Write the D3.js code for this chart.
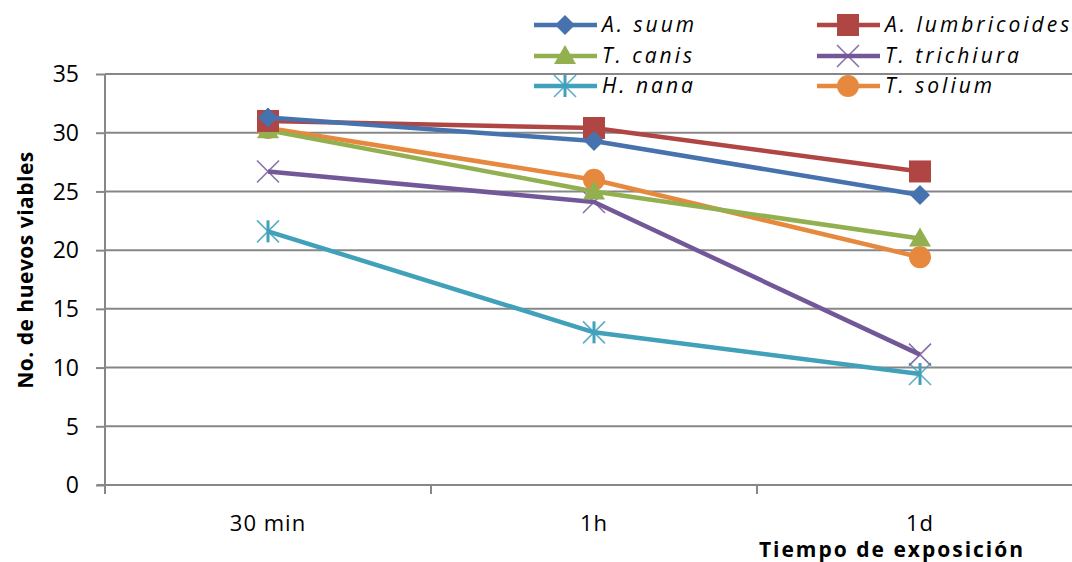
<!DOCTYPE html>
<html>
<head>
<meta charset="utf-8">
<script src="https://cdn.jsdelivr.net/npm/d3@7"></script>
<style>
  html, body { margin: 0; padding: 0; background: #fff; }
  svg { display: block; }
  text { font-family: "Open Sans", "DejaVu Sans", sans-serif; fill: #000; }
</style>
</head>
<body>
<svg id="chart" width="1072" height="562"></svg>
<script>
// Exposure times (categories)
const categories = ["30 min", "1h", "1d"];

// Viable egg counts per species
const aSuum          = [31.3, 29.3, 24.7];
const aLumbricoides  = [31.0, 30.4, 26.7];
const tCanis         = [30.2, 25.0, 21.0];
const tTrichiura     = [26.7, 24.1, 11.1];
const hNana          = [21.6, 13.0, 9.45];
const tSolium        = [30.4, 26.0, 19.4];

const yTicks = [0, 5, 10, 15, 20, 25, 30, 35];

const series = [
  { name: "A. suum",         values: aSuum,         color: "#4672ad", marker: "diamond" },
  { name: "A. lumbricoides", values: aLumbricoides, color: "#b04644", marker: "square" },
  { name: "T. canis",        values: tCanis,        color: "#92b050", marker: "triangle" },
  { name: "T. trichiura",    values: tTrichiura,    color: "#735899", marker: "cross" },
  { name: "H. nana",         values: hNana,         color: "#41a0ba", marker: "star" },
  { name: "T. solium",       values: tSolium,       color: "#e6893e", marker: "circle" }
];

const svg = d3.select("#chart");
const plot = { left: 105, right: 1083, top: 74, bottom: 485 };

const x = d3.scaleBand().domain(categories).range([plot.left, plot.right]);
const y = d3.scaleLinear().domain([0, 35]).range([plot.bottom, plot.top]);
const cx = d => x(d) + x.bandwidth() / 2;

// Horizontal gridlines
svg.append("g")
  .selectAll("line")
  .data(yTicks.filter(t => t > 0))
  .join("line")
  .attr("x1", plot.left).attr("x2", 1072)
  .attr("y1", d => y(d)).attr("y2", d => y(d))
  .attr("stroke", "#878787").attr("stroke-width", 2);

// Y axis
const yAxis = svg.append("g")
  .attr("transform", `translate(${plot.left},0)`)
  .call(d3.axisLeft(y).tickValues(yTicks).tickSize(9).tickPadding(17));
yAxis.select(".domain").attr("stroke", "#878787").attr("stroke-width", 2)
  .attr("d", `M0,${plot.top}V${plot.bottom + 8}`);
yAxis.selectAll(".tick line").attr("stroke", "#878787").attr("stroke-width", 2);
yAxis.selectAll(".tick text")
  .style("font-family", "'Open Sans', sans-serif")
  .style("font-size", "23px").attr("fill", "#000").attr("dy", "0.34em");

// X axis: ticks at category boundaries, labels centred in bands
const bounds = categories.map(c => x(c)).concat([plot.right]);
svg.append("line")
  .attr("x1", plot.left - 8).attr("x2", 1072)
  .attr("y1", plot.bottom).attr("y2", plot.bottom)
  .attr("stroke", "#878787").attr("stroke-width", 2);
svg.append("g").selectAll("line")
  .data(bounds)
  .join("line")
  .attr("x1", d => d).attr("x2", d => d)
  .attr("y1", plot.bottom).attr("y2", plot.bottom + 9)
  .attr("stroke", "#878787").attr("stroke-width", 2);
svg.append("g").selectAll("text")
  .data(categories)
  .join("text")
  .attr("x", d => cx(d)).attr("y", 531)
  .attr("text-anchor", "middle")
  .style("font-size", "22px").style("letter-spacing", "1px")
  .text(d => d);

// Axis titles
svg.append("text")
  .attr("x", 892).attr("y", 557)
  .attr("text-anchor", "middle")
  .style("font-size", "21px").style("font-weight", "bold")
  .style("letter-spacing", "2px")
  .text("Tiempo de exposición");

svg.append("text")
  .attr("transform", "translate(33,270) rotate(-90)")
  .attr("text-anchor", "middle")
  .style("font-size", "21px").style("font-weight", "bold")
  .style("letter-spacing", "0.5px")
  .text("No. de huevos viables");

// Marker drawing
function drawMarker(g, type, color, px, py) {
  switch (type) {
    case "diamond":
      g.append("path").attr("d", `M${px},${py - 10}L${px + 10},${py}L${px},${py + 10}L${px - 10},${py}Z`)
        .attr("fill", color);
      break;
    case "square":
      g.append("rect").attr("x", px - 11).attr("y", py - 11)
        .attr("width", 22).attr("height", 22).attr("fill", color);
      break;
    case "triangle":
      g.append("path").attr("d", `M${px},${py - 11}L${px + 11},${py + 8}L${px - 11},${py + 8}Z`)
        .attr("fill", color);
      break;
    case "circle":
      g.append("circle").attr("cx", px).attr("cy", py).attr("r", 11).attr("fill", color);
      break;
    case "cross":
      g.append("path").attr("d", `M${px - 11},${py - 11}L${px + 11},${py + 11}M${px + 11},${py - 11}L${px - 11},${py + 11}`)
        .attr("stroke", color).attr("stroke-width", 1.6).attr("opacity", 0.85).attr("fill", "none");
      break;
    case "star":
      g.append("path").attr("d", `M${px - 11},${py - 11}L${px + 11},${py + 11}M${px + 11},${py - 11}L${px - 11},${py + 11}`)
        .attr("stroke", color).attr("stroke-width", 1.6).attr("opacity", 0.85).attr("fill", "none");
      g.append("line").attr("x1", px).attr("x2", px).attr("y1", py - 11).attr("y2", py + 11)
        .attr("stroke", color).attr("stroke-width", 3);
      break;
  }
}

const line = d3.line().x((d, i) => cx(categories[i])).y(d => y(d));

// Series lines and markers (drawn in reverse so the first series sits on top)
const seriesG = svg.append("g");
series.slice().reverse().forEach(s => {
  const g = seriesG.append("g");
  g.append("path").datum(s.values).attr("d", line)
    .attr("fill", "none").attr("stroke", s.color).attr("stroke-width", 4.5)
    .attr("stroke-linejoin", "round");
  s.values.forEach((v, i) => drawMarker(g, s.marker, s.color, cx(categories[i]), y(v)));
});

// Legend: two columns, three rows
const legendCols = [534, 817];
const legendRows = [25, 56, 86];
const legend = svg.append("g");
series.forEach((s, i) => {
  const lx = legendCols[i % 2];
  const ly = legendRows[Math.floor(i / 2)];
  const g = legend.append("g");
  g.append("line").attr("x1", lx).attr("x2", lx + 63).attr("y1", ly).attr("y2", ly)
    .attr("stroke", s.color).attr("stroke-width", 4.5);
  drawMarker(g, s.marker, s.color, lx + 31, ly);
  g.append("text").attr("x", lx + 68).attr("y", ly).attr("dy", "0.35em")
    .style("font-size", "21px").style("font-style", "italic")
    .style("letter-spacing", "3px")
    .text(s.name);
});
</script>
</body>
</html>
